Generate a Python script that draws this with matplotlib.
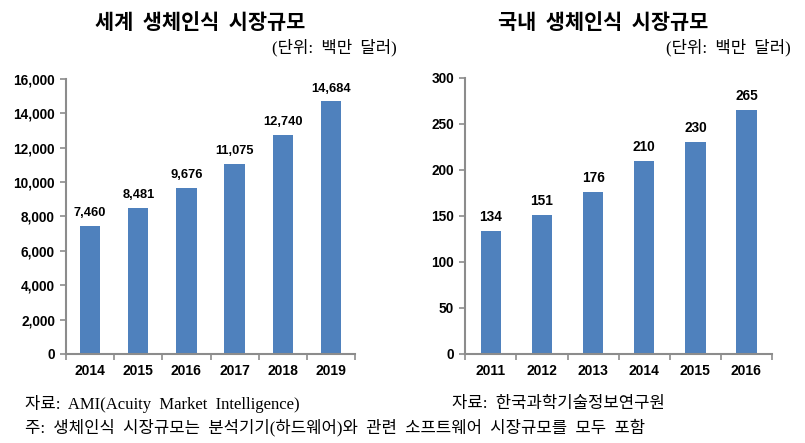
import matplotlib.pyplot as plt
import numpy as np

# World and domestic biometrics market size (million USD)
world_years = ['2014', '2015', '2016', '2017', '2018', '2019']
world_values = [7460, 8481, 9676, 11075, 12740, 14684]
korea_years = ['2011', '2012', '2013', '2014', '2015', '2016']
korea_values = [134, 151, 176, 210, 230, 265]

BAR = '#4F81BD'
AXIS = '#8C8C8C'
KR = ['Noto Sans CJK KR', 'DejaVu Sans']
SERIF = ['Liberation Serif', 'Noto Sans CJK KR']
SANS = 'Liberation Sans'

fig = plt.figure(figsize=(8.05, 4.43), dpi=100)


def draw(rect, years, values, ymax, step, fmt, width, vsize):
    ax = fig.add_axes(rect)
    x = np.arange(len(years))
    ax.bar(x, values, width=width, color=BAR, zorder=2)
    ax.set_xlim(-0.5, len(years) - 0.5)
    ax.set_ylim(0, ymax)
    ticks = np.arange(0, ymax + 1, step)
    ax.set_yticks(ticks)
    ax.set_yticklabels([fmt(v) for v in ticks], fontweight='bold', fontsize=9.8, family=SANS)
    ax.set_xticks(x)
    ax.set_xticklabels(years, fontweight='bold', fontsize=10, family=SANS)
    ax.set_xticks(np.arange(-0.5, len(years)), minor=True)
    ax.tick_params(axis='x', which='major', length=0, pad=7)
    ax.tick_params(axis='x', which='minor', length=4, color=AXIS, width=1.2)
    ax.tick_params(axis='y', length=4, color=AXIS, width=1.2, pad=4)
    for s in ['top', 'right']:
        ax.spines[s].set_visible(False)
    for s in ['left', 'bottom']:
        ax.spines[s].set_color(AXIS)
        ax.spines[s].set_linewidth(1.5)
    for xi, v in zip(x, values):
        ax.annotate(fmt(v), (xi, v), xytext=(0, 5), textcoords='offset points',
                    ha='center', va='bottom', fontweight='bold', fontsize=vsize,
                    family=SANS)
    return ax


draw([0.082, 0.201, 0.359, 0.621], world_years, world_values, 16000, 2000,
     lambda v: f'{int(v):,}', 0.42, 9.3)
draw([0.578, 0.201, 0.381, 0.623], korea_years, korea_values, 300, 50,
     lambda v: f'{int(v)}', 0.4, 9.8)

fig.text(0.249, 0.95, '세계  생체인식  시장규모', ha='center', va='center',
         fontsize=15, fontweight='bold', family=KR)
fig.text(0.749, 0.95, '국내  생체인식  시장규모', ha='center', va='center',
         fontsize=15, fontweight='bold', family=KR)
fig.text(0.493, 0.893, '(단위:  백만  달러)', ha='right', va='center',
         fontsize=12, family=SERIF)
fig.text(0.982, 0.893, '(단위:  백만  달러)', ha='right', va='center',
         fontsize=12, family=SERIF)
fig.text(0.031, 0.088, '자료:  AMI(Acuity  Market  Intelligence)', ha='left', va='center',
         fontsize=12, family=SERIF)
fig.text(0.561, 0.088, '자료:  한국과학기술정보연구원', ha='left', va='center',
         fontsize=12, family=SERIF)
fig.text(0.031, 0.036, '주:  생체인식  시장규모는  분석기기(하드웨어)와  관련  소프트웨어  시장규모를  모두  포함',
         ha='left', va='center', fontsize=12, family=SERIF)

fig.savefig('out.png', dpi=100)
